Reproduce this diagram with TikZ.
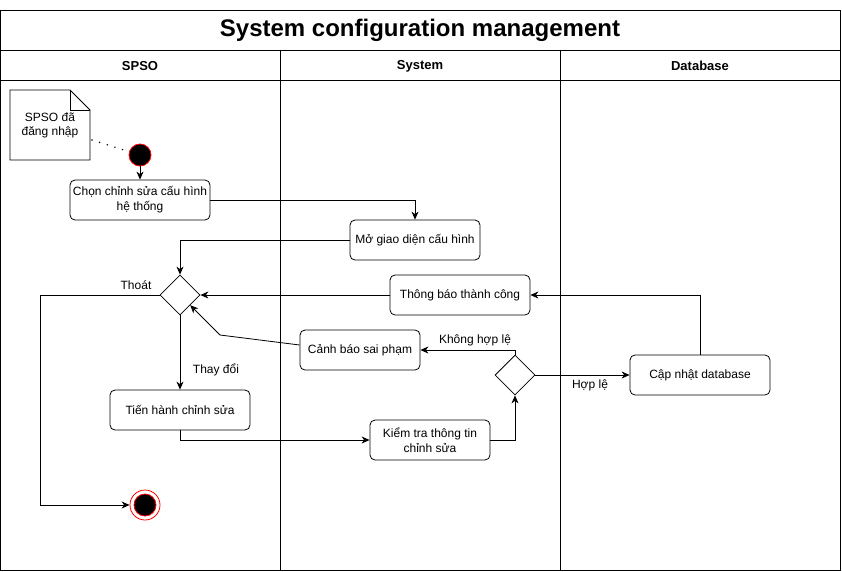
\documentclass[tikz,border=0pt]{standalone}
\usepackage{fontspec}
\setmainfont{Liberation Sans}
\usetikzlibrary{arrows.meta,shapes.geometric}

\begin{document}
\begin{tikzpicture}[x=1pt,y=-1pt,line width=0.8pt,
  act/.style={draw,rounded corners=5pt,minimum width=140pt,minimum height=40pt,align=center,inner sep=2pt,font=\fontsize{12}{15}\selectfont},
  choice/.style={draw,diamond,minimum width=40pt,minimum height=40pt,inner sep=0pt},
  lbl/.style={font=\fontsize{12}{14}\selectfont},
  flow/.style={-{Stealth[length=8pt,width=7pt,inset=2.5pt]}}]
\useasboundingbox (0,0) rectangle (842,571);
% swimlanes
\draw (0,10) rectangle (840,570);
\draw (0,50)--(840,50);
\draw (0,80)--(840,80);
\draw (280,50)--(280,570);
\draw (560,50)--(560,570);
\node[font=\bfseries\fontsize{24}{28}\selectfont] (title) at (420,30) {System configuration management};
\node[font=\bfseries\fontsize{13}{15}\selectfont] (lane1) at (140,66) {SPSO};
\node[font=\bfseries\fontsize{13}{15}\selectfont] (lane2) at (420,66) {System};
\node[font=\bfseries\fontsize{13}{15}\selectfont] (lane3) at (700,66) {Database};
% note
\draw (10,90)--(70,90)--(90,110)--(90,160)--(10,160)--cycle;
\draw (70,90)--(70,110)--(90,110);
\node[lbl,align=center] (note) at (50,125) {SPSO đã\\đăng nhập};
\coordinate (noteend) at (92,140);
% start and end
\node[circle,draw=red,fill=black,minimum size=22pt,inner sep=0pt] (start) at (140,155) {};
\node[circle,draw=red,minimum size=30pt,inner sep=0pt] (stop) at (145,505) {};
\node[circle,draw=red,fill=black,minimum size=22pt,inner sep=0pt] (stopin) at (145,505) {};
% actions
\node[act] (chon) at (140,200) {Chọn chỉnh sửa cấu hình\\hệ thống};
\node[act,minimum width=130pt] (mo) at (415,240) {Mở giao diện cấu hình};
\node[act] (thongbao) at (460,295) {Thông báo thành công};
\node[act,minimum width=120pt] (canhbao) at (360,350) {Cảnh báo sai phạm};
\node[act] (capnhat) at (700,375) {Cập nhật database};
\node[act] (tienhanh) at (180,410) {Tiến hành chỉnh sửa};
\node[act,minimum width=120pt] (kiemtra) at (430,440) {Kiểm tra thông tin\\chỉnh sửa};
\node[choice] (d1) at (180,295) {};
\node[choice] (d2) at (515,375) {};
% flows
\draw[line width=1.6pt,line cap=round,dash pattern=on 0pt off 8pt] (noteend)--(start);
\draw[flow] (start)--(chon);
\draw[flow] (chon.east)-|(mo.north);
\draw[flow] (mo.west)-|(d1.north);
\draw[flow] (thongbao.west)--(d1.east);
\draw[flow] (capnhat.north)|-(thongbao.east);
\draw[flow] ([yshift=5pt]canhbao.west)--(220,335)--(d1.south east);
\draw[flow] (d2.north)--(515,350)--(canhbao.east);
\draw[flow] (d2.east)--(capnhat.west);
\draw[flow] (d1.south)--(tienhanh.north);
\draw[flow] (tienhanh.south)--(180,440)--(kiemtra.west);
\draw[flow] (kiemtra.east)-|(d2.south);
\draw[flow] (d1.west)--(40,295)--(40,505)--(stop.west);
\node[lbl] (thoat) at (136,285) {Thoát};
\node[lbl] (thaydoi) at (216,370) {Thay đổi};
\node[lbl] (khong) at (475,340) {Không hợp lệ};
\node[lbl] (hople) at (590,385) {Hợp lệ};
\end{tikzpicture}
\end{document}
